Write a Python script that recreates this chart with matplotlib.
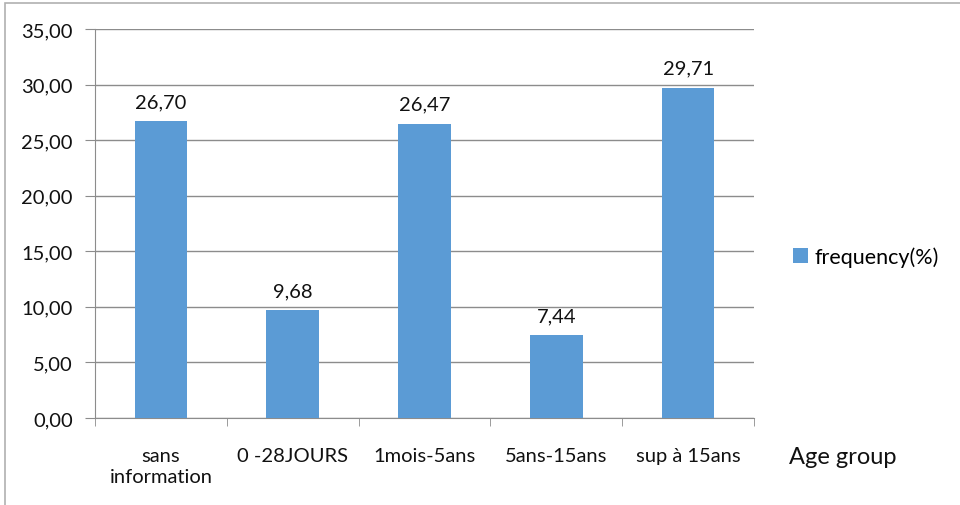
import numpy as np
import matplotlib as mpl
import matplotlib.pyplot as plt
from matplotlib.patches import Rectangle

categories = ['sans\ninformation', '0 -28JOURS', '1mois-5ans', '5ans-15ans', 'sup à 15ans']
frequency = [26.70, 9.68, 26.47, 7.44, 29.71]
yticks = [0, 5, 10, 15, 20, 25, 30, 35]

mpl.rcParams['font.family'] = ['Lato', 'DejaVu Sans']
mpl.rcParams['font.size'] = 14.5

bar_color = '#5b9bd5'
grid_color = '#8c8c8c'

fig = plt.figure(figsize=[9.6, 5.06], dpi=100)
ax = fig.add_axes([95 / 960, 1 - 419 / 506, (754 - 95) / 960, (419 - 30) / 506])

x = np.arange(len(categories))
bars = ax.bar(x, frequency, 0.4, color=bar_color, zorder=3, label='frequency(%)')

for xi, v in zip(x, frequency):
    ax.text(xi, v + 1.0, ('%.2f' % v).replace('.', ','), ha='center', va='bottom',
            fontsize=14.5, color='#111111')

ax.set_xlim(-0.5, len(categories) - 0.5)
ax.set_ylim(0, 35)
ax.set_yticks(yticks)
ax.set_yticklabels([('%.2f' % t).replace('.', ',') for t in yticks])
ax.yaxis.grid(True, color=grid_color, linewidth=1, zorder=0)

ax.set_xticks(x)
ax.set_xticklabels(categories, linespacing=1.3)
ax.set_xticks(np.arange(len(categories) + 1) - 0.5, minor=True)
ax.tick_params(axis='x', which='major', length=0, pad=21)
ax.tick_params(axis='x', which='minor', length=6, color=grid_color, direction='out')
ax.tick_params(axis='y', length=7, color=grid_color, pad=9)
ax.tick_params(labelcolor='#111111')

for side in ['top', 'right']:
    ax.spines[side].set_visible(False)
for side in ['left', 'bottom']:
    ax.spines[side].set_color(grid_color)

fig.text(789 / 960, 1 - 458 / 506, 'Age group', fontsize=17, va='center', ha='left',
         color='#111111')

fig.legend(handles=[bars], loc='center left', bbox_to_anchor=(774 / 960, 1 - 258 / 506),
           frameon=False, handlelength=0.7, handleheight=0.7, handletextpad=0.3,
           fontsize=15.5)

fig.patches.append(Rectangle((5 / 960, -0.1), 1.2, 1.1 - 4 / 506, transform=fig.transFigure,
                             fill=False, edgecolor='#b0b0b0', linewidth=1.2))

plt.savefig('out.png', dpi=100)
